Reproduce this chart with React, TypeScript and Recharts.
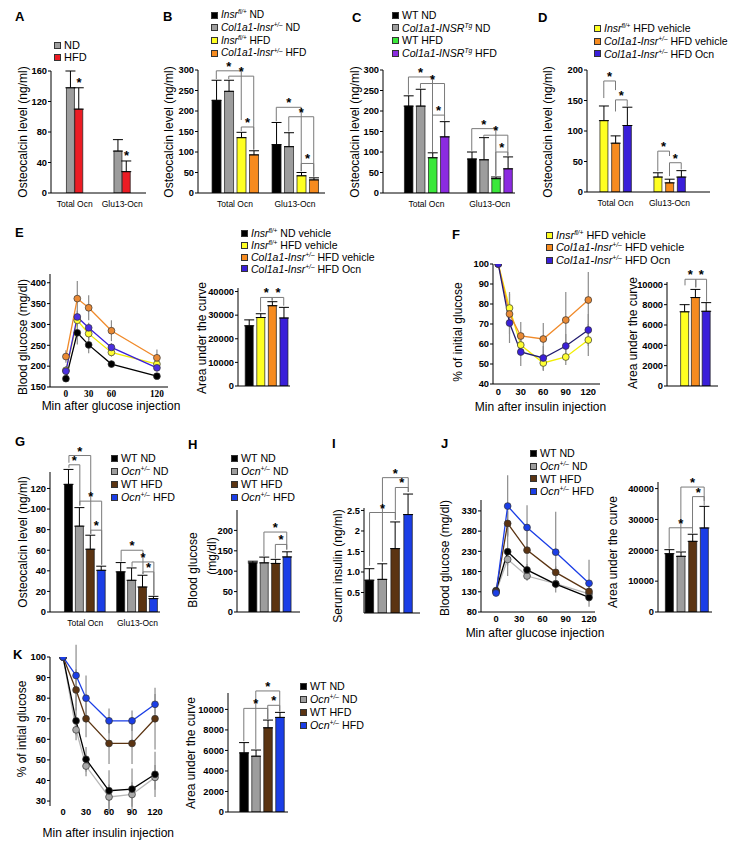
import React from 'react';
import {
  BarChart,
  Bar,
  Cell,
  ErrorBar,
  LineChart,
  Line,
  XAxis,
  YAxis,
  ReferenceLine,
  ReferenceDot
} from 'recharts';

const FONT = '"Liberation Sans", Arial, Helvetica, sans-serif';

// colours used by the figure
const BLACK = '#000000';
const GRAY = '#9d9d9d';
const RED = '#ec1c24';
const YELLOW = '#ffff22';
const ORANGE = '#f68b1f';
const GREEN = '#3ae83a';
const PURPLE = '#8b2be0';
const INDIGO = '#3a1fd9';
const BLUE = '#1b3ee6';
const BROWN = '#5b3412';

const ocnGroups = ['Total Ocn', 'Glu13-Ocn'];
const auc = [''];

// bracket = [group, left bar, right bar, top, left leg end, right leg end]
type Br = [number, number, number, number, number, number];

// ---- A
const aMeans = [[138, 55], [110, 28]];
const aErrs = [[22, 15], [28, 14]];
const aTicks = [0, 40, 80, 120, 160];
const aStars: [number, number, number][] = [[0, 1, 139], [1, 1, 43]];

// ---- B
const bMeans = [[226, 118], [248, 113], [135, 42], [93, 32]];
const bErrs = [[49, 54], [27, 34], [13, 8], [10, 5]];
const ocnTicks300 = [0, 50, 100, 150, 200, 250, 300];
const bBrackets: Br[] = [
  [0, 0, 2, 298, 278, 178], [0, 1, 3, 285, 278, 106], [0, 2, 3, 161, 151, 106],
  [1, 0, 2, 209, 175, 53], [1, 1, 3, 186, 150, 40], [1, 2, 3, 72, 53, 40]
];

// ---- C
const cMeans = [[212, 83], [212, 81], [86, 35], [137, 59]];
const cErrs = [[25, 17], [41, 54], [12, 4], [37, 29]];
const cBrackets: Br[] = [
  [0, 0, 2, 283, 240, 100], [0, 1, 3, 267, 255, 177], [0, 2, 3, 190, 100, 177],
  [1, 0, 2, 157, 103, 42], [1, 1, 3, 141, 137, 91], [1, 2, 3, 100, 42, 91]
];

// ---- D
const dMeans = [[117, 24.5], [80, 15], [109, 24.5]];
const dErrs = [[24, 7], [12, 6], [30, 10.5]];
const dTicks = [0, 50, 100, 150, 200];
const dBrackets: Br[] = [
  [0, 0, 1, 182, 154, 167], [0, 1, 2, 151, 132, 140],
  [1, 0, 1, 67, 34, 59], [1, 1, 2, 48, 26, 37]
];

// ---- E (GTT)
const eTime = [0, 15, 30, 60, 120];
const eNDveh = [170, 280, 251, 205, 176];
const eNDvehErr = [8, 28, 20, 8, 6];
const eHFDveh = [190, 310, 278, 233, 205];
const eHFDvehErr = [10, 15, 15, 10, 8];
const eKoVeh = [223, 362, 340, 285, 220];
const eKoVehErr = [15, 42, 30, 25, 20];
const eKoOcn = [188, 318, 292, 245, 196];
const eKoOcnErr = [10, 15, 12, 10, 8];
const eXTicks = [0, 30, 60, 120];
const eYTicks = [150, 200, 250, 300, 350, 400];
const eAuc = [25500, 29000, 34000, 28800];
const eAucErr = [2500, 1600, 1700, 4500];
const auc40Ticks = [0, 10000, 20000, 30000, 40000];
const eAucBrackets: Br[] = [[0, 1, 2, 37500, 31500, 36200], [0, 2, 3, 37500, 36200, 34000]];

// ---- F (ITT)
const fTime = [0, 15, 30, 60, 90, 120];
const fCtl = [100, 78, 59.5, 50.5, 53.5, 62];
const fCtlErr = [0, 8, 5, 4, 4, 8];
const fKoVeh = [100, 75, 64, 62.5, 72, 82];
const fKoVehErr = [0, 10, 7, 8, 14, 14];
const fKoOcn = [100, 70.5, 56, 53, 59, 67];
const fKoOcnErr = [0, 10, 7, 6, 6, 8];
const fXTicks = [0, 30, 60, 90, 120];
const fYTicks = [40, 50, 60, 70, 80, 90, 100];
const fAuc = [7300, 8700, 7350];
const fAucErr = [700, 800, 850];
const auc10Ticks = [0, 2000, 4000, 6000, 8000, 10000];
const fAucBrackets: Br[] = [[0, 0, 1, 10500, 9900, 9700], [0, 1, 2, 10500, 9700, 8300]];

// ---- G
const gMeans = [[124, 39], [83.4, 30.8], [61, 24.3], [40.5, 13]];
const gErrs = [[14.5, 9], [18, 12], [13.6, 11.4], [4, 2.2]];
const gTicks = [0, 20, 40, 60, 80, 100, 120];
const gBrackets: Br[] = [
  [0, 0, 1, 143, 140, 104], [0, 0, 2, 152, 145, 76], [0, 1, 3, 107.7, 103, 46], [0, 2, 3, 79.5, 76, 46],
  [1, 0, 2, 60, 49, 37], [1, 1, 3, 48.6, 44, 16], [1, 2, 3, 39, 37, 16]
];

// ---- H
const hMeans = [120.5, 120.5, 119, 135];
const hErrs = [4, 14, 10, 12.5];
const hTicks = [0, 50, 100, 150, 200];
const hBrackets: Br[] = [[0, 1, 3, 196, 137, 153], [0, 2, 3, 165.6, 131, 153]];

// ---- I
const iMeans = [0.8, 0.82, 1.57, 2.4];
const iErrs = [0.28, 0.38, 0.65, 0.5];
const iTicks = [0.5, 1, 1.5, 2, 2.5];
const iTickLabels = ['0.5', '1.0', '1.5', '2', '2.5'];
const iBrackets: Br[] = [[0, 0, 2, 2.45, 1.15, 2.27], [0, 1, 3, 3.3, 1.25, 2.95], [0, 2, 3, 3.06, 2.27, 2.95]];

// ---- J
const jTime = [0, 15, 40, 77, 120];
const jWTND = [133, 229, 184, 149, 116];
const jWTNDErr = [5, 60, 15, 10, 10];
const jOcnND = [130, 210, 169, 150, 125];
const jOcnNDErr = [5, 15, 12, 10, 10];
const jWTHFD = [131, 299, 233, 178, 131];
const jWTHFDErr = [5, 30, 60, 15, 15];
const jOcnHFD = [127, 342, 289, 228, 151];
const jOcnHFDErr = [5, 76, 55, 100, 58];
const jXTicks = [0, 30, 60, 90, 120];
const jYTicks = [80, 130, 180, 230, 280, 330];
const jAuc = [18900, 18050, 22900, 27240];
const jAucErr = [1300, 1400, 2300, 7000];
const jAucBrackets: Br[] = [[0, 0, 2, 27300, 20500, 25500], [0, 1, 3, 40500, 19700, 36000], [0, 2, 3, 37400, 25500, 34500]];

// ---- K
const kTime = [0, 17, 30, 60, 90, 120];
const kWTND = [100, 69, 50.3, 35, 35.8, 43];
const kWTNDErr = [0, 7, 6, 10, 10, 11];
const kOcnND = [100, 64.6, 47, 32, 33.2, 41.5];
const kOcnNDErr = [0, 5, 5, 6, 6, 6];
const kWTHFD = [100, 84, 70, 58, 58, 70];
const kWTHFDErr = [0, 10, 9, 10, 10, 15];
const kOcnHFD = [100, 91, 80, 69, 69, 77];
const kOcnHFDErr = [0, 15, 11, 6, 5, 5];
const kXTicks = [0, 30, 60, 90, 120];
const kYTicks = [30, 40, 50, 60, 70, 80, 90, 100];
const kAuc = [5765, 5440, 8210, 9220];
const kAucErr = [1000, 600, 750, 490];
const kAucBrackets: Br[] = [[0, 0, 2, 10100, 6900, 9050], [0, 1, 3, 11800, 6150, 9800], [0, 2, 3, 10400, 9050, 9800]];

// chart frame around the plot area
const YW = 40;
const TOPM = 50;
const RIGHTM = 6;
const XH = 24;

const STAR = { value: '*', position: 'top' as const, offset: 0, fontSize: 13, fontWeight: 700, fill: '#000' };
const TICK = { fontSize: 9.3, fontWeight: 700, fill: '#000' };

type BarProps = {
  box: [number, number, number, number];
  groups: string[];
  values: number[][];
  errors: number[][];
  colors: string[];
  xDomain: [number, number];
  step: number;
  barSize: number;
  yDomain: [number, number];
  yTicks: number[];
  yFormat?: (v: number) => string;
  brackets?: Br[];
  stars?: [number, number, number][];
};

function BarPanel(p: BarProps) {
  const [l, t, r, b] = p.box;
  const n = p.values.length;
  const bx = (g: number, s: number) => g + (s - (n - 1) / 2) * p.step;
  const rows: any[] = [];
  p.groups.forEach((_, g) =>
    p.values.forEach((vals, s) =>
      rows.push({ x: bx(g, s), v: vals[g], e: [0, p.errors[s][g]], fill: p.colors[s] })
    )
  );
  const width = YW + (r - l) + RIGHTM;
  const height = TOPM + (b - t) + XH;
  const seg = { stroke: '#7a7a7a', strokeWidth: 1, ifOverflow: 'visible' as const };
  const marks: React.ReactNode[] = [];
  (p.brackets || []).forEach(([g, a, c, top, la, lc], i) => {
    const xa = bx(g, a);
    const xc = bx(g, c);
    marks.push(<ReferenceLine key={'l' + i} segment={[{ x: xa, y: la }, { x: xa, y: top }]} {...seg} />);
    marks.push(<ReferenceLine key={'h' + i} segment={[{ x: xa, y: top }, { x: xc, y: top }]} {...seg} />);
    marks.push(<ReferenceLine key={'r' + i} segment={[{ x: xc, y: top }, { x: xc, y: lc }]} {...seg} />);
    marks.push(
      <ReferenceDot key={'s' + i} x={(xa + xc) / 2} y={top} r={0} fill="none" stroke="none" ifOverflow="visible" label={STAR} />
    );
  });
  (p.stars || []).forEach(([g, s, y], i) => {
    marks.push(
      <ReferenceDot key={'st' + i} x={bx(g, s)} y={y} r={0} fill="none" stroke="none" ifOverflow="visible" label={STAR} />
    );
  });
  return (
    <div style={{ position: 'absolute', left: l - YW, top: t - TOPM }}>
      <BarChart width={width} height={height} data={rows} margin={{ top: TOPM, right: RIGHTM, bottom: 0, left: 0 }}>
        <XAxis
          type="number"
          dataKey="x"
          domain={p.xDomain}
          allowDataOverflow
          ticks={p.groups.map((_, i) => i)}
          tickFormatter={(v: number) => p.groups[v] ?? ''}
          interval={0}
          height={XH}
          tickLine={false}
          axisLine={{ stroke: '#000' }}
          tick={p.groups.length > 1 ? { fontSize: 8.5, fill: '#000' } : false}
        />
        <YAxis
          type="number"
          domain={p.yDomain}
          allowDataOverflow
          ticks={p.yTicks}
          interval={0}
          width={YW}
          tickSize={3}
          tickMargin={1}
          tickFormatter={p.yFormat}
          axisLine={{ stroke: '#000' }}
          tickLine={{ stroke: '#000' }}
          tick={TICK}
        />
        <Bar dataKey="v" barSize={p.barSize} isAnimationActive={false} stroke="#1a1a1a" strokeWidth={0.7}>
          {rows.map((row, i) => (
            <Cell key={i} fill={row.fill} />
          ))}
          <ErrorBar dataKey="e" width={5} stroke="#000" strokeWidth={1} direction="y" />
        </Bar>
        {marks}
      </BarChart>
    </div>
  );
}

type LineSeries = { values: number[]; errors: number[]; line: string; dot: string };

type LineProps = {
  box: [number, number, number, number];
  times: number[];
  series: LineSeries[];
  xDomain: [number, number];
  xTicks: number[];
  yDomain: [number, number];
  yTicks: number[];
  xAxisLine?: boolean;
  serifX?: boolean;
  xTickGap?: number;
};

function LinePanel(p: LineProps) {
  const [l, t, r, b] = p.box;
  const rows = p.times.map((tm, i) => {
    const row: any = { t: tm };
    p.series.forEach((s, k) => {
      row['v' + k] = s.values[i];
      row['e' + k] = s.errors[i];
    });
    return row;
  });
  const width = YW + (r - l) + RIGHTM;
  const height = TOPM + (b - t) + XH;
  return (
    <div style={{ position: 'absolute', left: l - YW, top: t - TOPM }}>
      <LineChart width={width} height={height} data={rows} margin={{ top: TOPM, right: RIGHTM, bottom: 0, left: 0 }}>
        <XAxis
          type="number"
          dataKey="t"
          domain={p.xDomain}
          allowDataOverflow
          ticks={p.xTicks}
          interval={0}
          height={XH}
          tickLine={false}
          tickSize={p.xTickGap ?? 3}
          tickMargin={1}
          axisLine={p.xAxisLine === false ? false : { stroke: '#000' }}
          tick={{ ...TICK, fontFamily: p.serifX ? '"Liberation Serif", "Times New Roman", serif' : FONT }}
        />
        <YAxis
          type="number"
          domain={p.yDomain}
          allowDataOverflow
          ticks={p.yTicks}
          interval={0}
          width={YW}
          tickSize={3}
          tickMargin={1}
          axisLine={{ stroke: '#000' }}
          tickLine={{ stroke: '#000' }}
          tick={TICK}
        />
        {p.series.map((s, k) => (
          <Line key={'err' + k} dataKey={'v' + k} stroke="none" dot={false} activeDot={false} isAnimationActive={false}>
            <ErrorBar dataKey={'e' + k} width={0} stroke="#8c8c8c" strokeWidth={1.2} direction="y" />
          </Line>
        ))}
        {p.series.map((s, k) => (
          <Line
            key={'ln' + k}
            dataKey={'v' + k}
            stroke={s.line}
            strokeWidth={1.3}
            dot={{ r: 3.4, fill: s.dot, stroke: '#333', strokeWidth: 0.7 }}
            activeDot={false}
            isAnimationActive={false}
          />
        ))}
      </LineChart>
    </div>
  );
}

// superscript genotype labels
const sup = (s: string) => (
  <span style={{ fontSize: '0.62em', position: 'relative', top: '-0.6em', fontStyle: 'italic' }}>{s}</span>
);
const insrFl = <><i>Insr</i>{sup('fl/+')}</>;
const colInsr = <><i>Col1a1-Insr</i>{sup('+/–')}</>;
const colTg = <><i>Col1a1-INSR</i>{sup('Tg')}</>;
const ocnHet = <><i>Ocn</i>{sup('+/–')}</>;

function Legend({ x, y, gap, size = 10.5, items }: { x: number; y: number; gap: number; size?: number; items: [string, React.ReactNode][] }) {
  return (
    <>
      {items.map(([c, label], i) => (
        <React.Fragment key={i}>
          <div
            style={{
              position: 'absolute', left: x, top: y + i * gap - 3.5, width: 7, height: 7,
              background: c, border: '1px solid #333', boxSizing: 'border-box'
            }}
          />
          <div style={{ position: 'absolute', left: x + 10, top: y + i * gap - size / 2, fontSize: size, lineHeight: 1, whiteSpace: 'nowrap' }}>
            {label}
          </div>
        </React.Fragment>
      ))}
    </>
  );
}

const VText = ({ x, y, children }: { x: number; y: number; children: React.ReactNode }) => (
  <div style={{ position: 'absolute', left: x, top: y, fontSize: 12, lineHeight: 1, whiteSpace: 'nowrap', transform: 'translate(-50%, -50%) rotate(-90deg)' }}>
    {children}
  </div>
);

const HText = ({ x, y, children }: { x: number; y: number; children: React.ReactNode }) => (
  <div style={{ position: 'absolute', left: x, top: y, fontSize: 12, lineHeight: 1, whiteSpace: 'nowrap', transform: 'translate(-50%, -50%)' }}>
    {children}
  </div>
);

const letters: [string, number, number][] = [
  ['A', 15, 12], ['B', 163, 12], ['C', 352, 13], ['D', 538, 13], ['E', 15, 228], ['F', 452, 230],
  ['G', 15, 437], ['H', 188, 440], ['I', 332, 439], ['J', 441, 439], ['K', 13, 650]
];

const one = (vals: number[]) => vals.map((v) => [v]);

export default function App() {
  const ocnLegend: [string, React.ReactNode][] = [
    [BLACK, 'WT ND'], [GRAY, <>{ocnHet} ND</>], [BROWN, 'WT HFD'], [BLUE, <>{ocnHet} HFD</>]
  ];
  const dfLegend: [string, React.ReactNode][] = [
    [YELLOW, <>{insrFl} HFD vehicle</>], [ORANGE, <>{colInsr} HFD vehicle</>], [INDIGO, <>{colInsr} HFD Ocn</>]
  ];
  const ocnColors = [BLACK, GRAY, BROWN, BLUE];
  return (
    <div style={{ position: 'absolute', left: 0, top: 0, width: 755, height: 849, background: '#fff', fontFamily: FONT, color: '#000', overflow: 'hidden' }}>
      {letters.map(([s, x, y]) => (
        <div key={s} style={{ position: 'absolute', left: x, top: y - 2, fontSize: 13, fontWeight: 700, lineHeight: 1 }}>{s}</div>
      ))}

      {/* legends */}
      <Legend x={54} y={45.5} gap={11.5} size={11} items={[[GRAY, 'ND'], [RED, 'HFD']]} />
      <Legend x={211} y={15} gap={12.8} size={10.2} items={[
        [BLACK, <>{insrFl} ND</>], [GRAY, <>{colInsr} ND</>], [YELLOW, <>{insrFl} HFD</>], [ORANGE, <>{colInsr} HFD</>]
      ]} />
      <Legend x={392} y={15} gap={12.8} size={10.6} items={[
        [BLACK, 'WT ND'], [GRAY, <>{colTg} ND</>], [GREEN, 'WT HFD'], [PURPLE, <>{colTg} HFD</>]
      ]} />
      <Legend x={594} y={28.3} gap={12.8} size={10.5} items={dfLegend} />
      <Legend x={241} y={233.5} gap={11.8} size={10.5} items={[
        [BLACK, <>{insrFl} ND vehicle</>], [YELLOW, <>{insrFl} HFD vehicle</>],
        [ORANGE, <>{colInsr} HFD vehicle</>], [INDIGO, <>{colInsr} HFD Ocn</>]
      ]} />
      <Legend x={546} y={235} gap={12.5} size={10.9} items={dfLegend} />
      <Legend x={111} y={458.3} gap={13.1} size={10.7} items={ocnLegend} />
      <Legend x={231} y={458.3} gap={13.1} size={10.7} items={ocnLegend} />
      <Legend x={530} y={453.3} gap={12.8} size={10.7} items={ocnLegend} />
      <Legend x={300} y={686.7} gap={12.8} size={10.7} items={ocnLegend} />

      {/* axis titles */}
      <VText x={23.3} y={131.7}>Osteocalcin level (ng/ml)</VText>
      <VText x={169} y={131.7}>Osteocalcin level (ng/ml)</VText>
      <VText x={355} y={131.7}>Osteocalcin level (ng/ml)</VText>
      <VText x={548} y={131.7}>Osteocalcin level (ng/ml)</VText>
      <VText x={23} y={337}>Blood glucose (mg/dl)</VText>
      <VText x={202} y={338}>Area under the curve</VText>
      <VText x={457.5} y={331.7}>% of initial glucose</VText>
      <VText x={633} y={333}>Area under the curve</VText>
      <VText x={22.5} y={541.7}>Osteocalcin level (ng/ml)</VText>
      <VText x={193} y={570}>Blood glucose</VText>
      <VText x={212} y={556}>(mg/dl)</VText>
      <VText x={338} y={566}>Serum insulin (ng/ml)</VText>
      <VText x={445} y={558}>Blood glucose (mg/dl)</VText>
      <VText x={612.5} y={551.7}>Area under the curve</VText>
      <VText x={22} y={729}>% of intial glucose</VText>
      <VText x={191} y={753}>Area under the curve</VText>
      <HText x={111} y={406}>Min after glucose injection</HText>
      <HText x={540.5} y={407}>Min after insulin injection</HText>
      <HText x={535} y={633}>Min after glucose injection</HText>
      <HText x={108.3} y={833}>Min after insulin injection</HText>

      {/* A-D */}
      <BarPanel box={[51, 71, 146, 193]} groups={ocnGroups} values={aMeans} errors={aErrs} colors={[GRAY, RED]}
        xDomain={[-0.5, 1.5]} step={0.175} barSize={8} yDomain={[0, 160]} yTicks={aTicks} stars={aStars} />
      <BarPanel box={[198, 70, 325, 193]} groups={ocnGroups} values={bMeans} errors={bErrs} colors={[BLACK, GRAY, YELLOW, ORANGE]}
        xDomain={[-0.617, 1.5]} step={0.208} barSize={9} yDomain={[0, 300]} yTicks={ocnTicks300} brackets={bBrackets} />
      <BarPanel box={[383, 70, 515, 193]} groups={ocnGroups} values={cMeans} errors={cErrs} colors={[BLACK, GRAY, GREEN, PURPLE]}
        xDomain={[-0.687, 1.398]} step={0.19} barSize={8.5} yDomain={[0, 300]} yTicks={ocnTicks300} brackets={cBrackets} />
      <BarPanel box={[587, 70, 710, 192]} groups={ocnGroups} values={dMeans} errors={dErrs} colors={[YELLOW, ORANGE, INDIGO]}
        xDomain={[-0.528, 1.75]} step={0.217} barSize={8} yDomain={[0, 200]} yTicks={dTicks} brackets={dBrackets} />

      {/* E */}
      <LinePanel box={[50, 274, 168, 387]} times={eTime} xDomain={[-21, 134.6]} xTicks={eXTicks} yDomain={[150, 421]} yTicks={eYTicks}
        serifX xTickGap={2}
        series={[
          { values: eNDveh, errors: eNDvehErr, line: '#000', dot: '#000' },
          { values: eHFDveh, errors: eHFDvehErr, line: '#eeea00', dot: '#ffff33' },
          { values: eKoVeh, errors: eKoVehErr, line: '#f08a2a', dot: '#ea8a35' },
          { values: eKoOcn, errors: eKoOcnErr, line: INDIGO, dot: '#4b2fe0' }
        ]} />
      <BarPanel box={[238, 288, 290, 386]} groups={auc} values={one(eAuc)} errors={one(eAucErr)} colors={[BLACK, YELLOW, ORANGE, INDIGO]}
        xDomain={[-2.45, 2.04]} step={1} barSize={8} yDomain={[0, 41500]} yTicks={auc40Ticks} brackets={eAucBrackets} />

      {/* F */}
      <LinePanel box={[493, 264, 600, 384]} times={fTime} xDomain={[-7, 135.6]} xTicks={fXTicks} yDomain={[40, 100]} yTicks={fYTicks}
        series={[
          { values: fCtl, errors: fCtlErr, line: '#f2ee00', dot: '#ffff33' },
          { values: fKoVeh, errors: fKoVehErr, line: '#f08a2a', dot: '#ea8a35' },
          { values: fKoOcn, errors: fKoOcnErr, line: '#231d70', dot: INDIGO }
        ]} />
      <BarPanel box={[667, 282, 718, 386]} groups={auc} values={one(fAuc)} errors={one(fAucErr)} colors={[YELLOW, ORANGE, INDIGO]}
        xDomain={[-2.67, 2.06]} step={1} barSize={8} yDomain={[0, 10230]} yTicks={auc10Ticks} brackets={fAucBrackets} />

      {/* G, H, I */}
      <BarPanel box={[50, 472, 160, 612]} groups={ocnGroups} values={gMeans} errors={gErrs} colors={ocnColors}
        xDomain={[-0.676, 1.431]} step={0.209} barSize={8} yDomain={[0, 136]} yTicks={gTicks} brackets={gBrackets} />
      <BarPanel box={[237, 510, 300, 612]} groups={auc} values={one(hMeans)} errors={one(hErrs)} colors={ocnColors}
        xDomain={[-2.86, 2.66]} step={1} barSize={8} yDomain={[0, 250]} yTicks={hTicks} brackets={hBrackets} />
      <BarPanel box={[364, 508, 420, 613]} groups={auc} values={one(iMeans)} errors={one(iErrs)} colors={ocnColors}
        xDomain={[-1.93, 2.41]} step={1} barSize={8.5} yDomain={[0, 2.56]} yTicks={iTicks}
        yFormat={(v) => iTickLabels[iTicks.indexOf(v)] ?? ''} brackets={iBrackets} />

      {/* J */}
      <LinePanel box={[481, 500, 595, 612]} times={jTime} xDomain={[-19.4, 127.7]} xTicks={jXTicks} yDomain={[80, 357]} yTicks={jYTicks}
        xTickGap={2}
        series={[
          { values: jOcnND, errors: jOcnNDErr, line: '#b8b8b8', dot: '#a8a8a8' },
          { values: jWTND, errors: jWTNDErr, line: '#000', dot: '#000' },
          { values: jWTHFD, errors: jWTHFDErr, line: BROWN, dot: BROWN },
          { values: jOcnHFD, errors: jOcnHFDErr, line: BLUE, dot: BLUE }
        ]} />
      <BarPanel box={[658, 482, 712, 612]} groups={auc} values={one(jAuc)} errors={one(jAucErr)} colors={ocnColors}
        xDomain={[-2.46, 2.17]} step={1} barSize={8} yDomain={[0, 42140]} yTicks={auc40Ticks} brackets={jAucBrackets} />

      {/* K */}
      <LinePanel box={[50, 657, 163, 806]} times={kTime} xDomain={[-17, 130.4]} xTicks={kXTicks} yDomain={[27.6, 100]} yTicks={kYTicks}
        xAxisLine={false} xTickGap={1}
        series={[
          { values: kOcnND, errors: kOcnNDErr, line: '#b8b8b8', dot: '#a8a8a8' },
          { values: kWTND, errors: kWTNDErr, line: '#000', dot: '#000' },
          { values: kWTHFD, errors: kWTHFDErr, line: BROWN, dot: BROWN },
          { values: kOcnHFD, errors: kOcnHFDErr, line: BLUE, dot: BLUE }
        ]} />
      <BarPanel box={[228, 693, 288, 812]} groups={auc} values={one(kAuc)} errors={one(kAucErr)} colors={ocnColors}
        xDomain={[-2.82, 2.19]} step={1} barSize={8.5} yDomain={[0, 11600]} yTicks={auc10Ticks} brackets={kAucBrackets} />
    </div>
  );
}
